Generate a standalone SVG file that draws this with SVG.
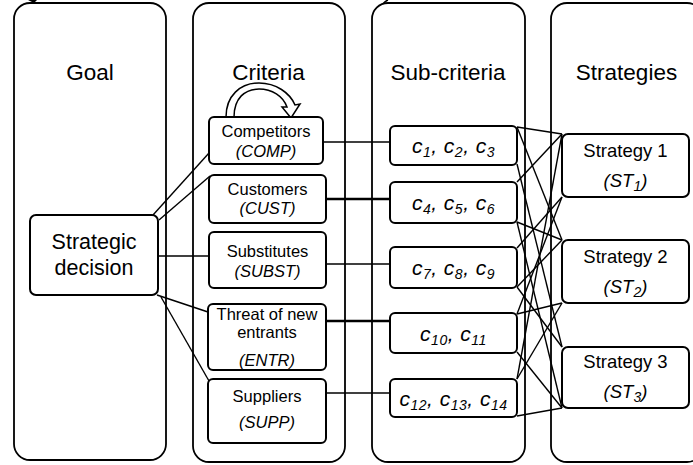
<svg xmlns="http://www.w3.org/2000/svg" width="693" height="465" viewBox="0 0 693 465">
<style>
.col{fill:#fff;stroke:#000;stroke-width:1.8}
.box{fill:#fff;stroke:#000;stroke-width:2}
.hdr{font-family:"Liberation Sans",Arial,sans-serif;font-size:22.5px;text-anchor:middle;fill:#000}
.dec{font-family:"Liberation Sans",Arial,sans-serif;font-size:21.5px;text-anchor:middle;fill:#000}
.cr{font-family:"Liberation Sans",Arial,sans-serif;font-size:16.5px;text-anchor:middle;fill:#000}
.st{font-family:"Liberation Sans",Arial,sans-serif;font-size:18.5px;text-anchor:middle;fill:#000}
.it{font-style:italic}
.sc{font-family:"Liberation Sans",Arial,sans-serif;font-size:21px;font-style:italic;text-anchor:middle;fill:#000;letter-spacing:0.5px}
.sub{font-size:14px}
.ln{stroke:#000;stroke-width:1.4;fill:none}
.thk{stroke:#000;stroke-width:2.6;fill:none}
</style>
<rect width="693" height="465" fill="#fff"/>
<path d="M28 0 L37 0 L34 3 Z" fill="#000"/>
<path d="M383 4 Q385 1 388 0" class="ln"/>
<g id="columns">
<rect id="col-goal" class="col" x="14" y="3" width="152" height="457" rx="16"/>
<rect id="col-criteria" class="col" x="193" y="3" width="152" height="459" rx="16"/>
<rect id="col-sub" class="col" x="372" y="3" width="153" height="459" rx="16"/>
<rect id="col-strat" class="col" x="551" y="3" width="152" height="459" rx="16"/>
<text class="hdr" x="90" y="80">Goal</text>
<text class="hdr" x="268.5" y="80">Criteria</text>
<text class="hdr" x="448" y="80">Sub-criteria</text>
<text class="hdr" x="626.5" y="80">Strategies</text>
</g>
<g id="connectors">
<line class="ln" x1="153" y1="215" x2="209" y2="153"/>
<line class="ln" x1="159" y1="220" x2="210" y2="176"/>
<line class="ln" x1="158" y1="256" x2="209" y2="256"/>
<line class="ln" x1="157" y1="295" x2="208" y2="312"/>
<line class="ln" x1="161" y1="297" x2="209" y2="381"/>
<line class="ln" x1="323" y1="142" x2="390" y2="142"/>
<line class="thk" x1="326" y1="199" x2="390" y2="199"/>
<line class="ln" x1="326" y1="264" x2="390" y2="264"/>
<line class="thk" x1="326" y1="321" x2="390" y2="321"/>
<line class="ln" x1="326" y1="393" x2="390" y2="393"/>
<line class="ln" x1="517" y1="127" x2="562" y2="134"/>
<line class="ln" x1="517" y1="127" x2="562" y2="240"/>
<line class="ln" x1="517" y1="164" x2="562" y2="347"/>
<line class="ln" x1="517" y1="182" x2="562" y2="134"/>
<line class="ln" x1="517" y1="222" x2="562" y2="240"/>
<line class="ln" x1="517" y1="222" x2="562" y2="408"/>
<line class="ln" x1="517" y1="248" x2="562" y2="197"/>
<line class="ln" x1="517" y1="287" x2="562" y2="240"/>
<line class="ln" x1="517" y1="287" x2="562" y2="347"/>
<line class="ln" x1="517" y1="314" x2="562" y2="303"/>
<line class="ln" x1="517" y1="314" x2="562" y2="197"/>
<line class="ln" x1="517" y1="352" x2="562" y2="408"/>
<line class="ln" x1="517" y1="379" x2="562" y2="134"/>
<line class="ln" x1="517" y1="379" x2="562" y2="303"/>
<line class="ln" x1="517" y1="416" x2="562" y2="408"/>
<path id="self-loop" d="M226 117 C226 96 240 83 259 83 C276 83 290 93 295 105 L300 104 L291 118 L282 107 L287 107 C283 96 272 89 259 89 C245 89 234 98 234 117 Z" fill="#fff" stroke="#000" stroke-width="1.5"/>
</g>
<g id="goal">
<rect class="box" x="30" y="215" width="128" height="80" rx="6"/>
<text class="dec" x="94" y="249">Strategic</text>
<text class="dec" x="94" y="275">decision</text>
</g>
<g id="comp">
<rect class="box" x="209" y="117" width="114" height="47" rx="5"/>
<text class="cr" x="266" y="137">Competitors</text>
<text class="cr it" x="266" y="157">(COMP)</text>
</g>
<g id="cust">
<rect class="box" x="209" y="175" width="117" height="48" rx="5"/>
<text class="cr" x="267.5" y="195">Customers</text>
<text class="cr it" x="267.5" y="214">(CUST)</text>
</g>
<g id="subst">
<rect class="box" x="209" y="232" width="117" height="56" rx="5"/>
<text class="cr" x="267.5" y="257">Substitutes</text>
<text class="cr it" x="267.5" y="277">(SUBST)</text>
</g>
<g id="entr">
<rect class="box" x="208" y="304" width="118" height="66" rx="5"/>
<text class="cr" x="267" y="320">Threat of new</text>
<text class="cr" x="267" y="338">entrants</text>
<text class="cr it" x="267" y="366">(ENTR)</text>
</g>
<g id="supp">
<rect class="box" x="208" y="379" width="118" height="64" rx="5"/>
<text class="cr" x="267" y="402">Suppliers</text>
<text class="cr it" x="267" y="428">(SUPP)</text>
</g>
<g id="sc1">
<rect class="box" x="390" y="126" width="127" height="39" rx="5"/>
<text class="sc" x="453.5" y="153">c<tspan class="sub" dy="4">1</tspan><tspan dy="-4">, c</tspan><tspan class="sub" dy="4">2</tspan><tspan dy="-4">, c</tspan><tspan class="sub" dy="4">3</tspan></text>
</g>
<g id="sc2">
<rect class="box" x="390" y="182" width="127" height="41" rx="5"/>
<text class="sc" x="453.5" y="210">c<tspan class="sub" dy="4">4</tspan><tspan dy="-4">, c</tspan><tspan class="sub" dy="4">5</tspan><tspan dy="-4">, c</tspan><tspan class="sub" dy="4">6</tspan></text>
</g>
<g id="sc3">
<rect class="box" x="390" y="247" width="127" height="41" rx="5"/>
<text class="sc" x="453.5" y="275">c<tspan class="sub" dy="4">7</tspan><tspan dy="-4">, c</tspan><tspan class="sub" dy="4">8</tspan><tspan dy="-4">, c</tspan><tspan class="sub" dy="4">9</tspan></text>
</g>
<g id="sc4">
<rect class="box" x="390" y="313" width="127" height="40" rx="5"/>
<text class="sc" x="453.5" y="341">c<tspan class="sub" dy="4">10</tspan><tspan dy="-4">, c</tspan><tspan class="sub" dy="4">11</tspan></text>
</g>
<g id="sc5">
<rect class="box" x="390" y="379" width="127" height="38" rx="5"/>
<text class="sc" x="453.5" y="406">c<tspan class="sub" dy="4">12</tspan><tspan dy="-4">, c</tspan><tspan class="sub" dy="4">13</tspan><tspan dy="-4">, c</tspan><tspan class="sub" dy="4">14</tspan></text>
</g>
<g id="st1">
<rect class="box" x="562" y="134" width="127" height="63" rx="6"/>
<text class="st" x="625.5" y="157">Strategy 1</text>
<text class="st it" x="625.5" y="187">(ST<tspan class="sub" dy="4">1</tspan><tspan dy="-4">)</tspan></text>
</g>
<g id="st2">
<rect class="box" x="562" y="240" width="127" height="63" rx="6"/>
<text class="st" x="625.5" y="263">Strategy 2</text>
<text class="st it" x="625.5" y="293">(ST<tspan class="sub" dy="4">2</tspan><tspan dy="-4">)</tspan></text>
</g>
<g id="st3">
<rect class="box" x="562" y="347" width="127" height="61" rx="6"/>
<text class="st" x="625.5" y="368">Strategy 3</text>
<text class="st it" x="625.5" y="398">(ST<tspan class="sub" dy="4">3</tspan><tspan dy="-4">)</tspan></text>
</g>
</svg>
